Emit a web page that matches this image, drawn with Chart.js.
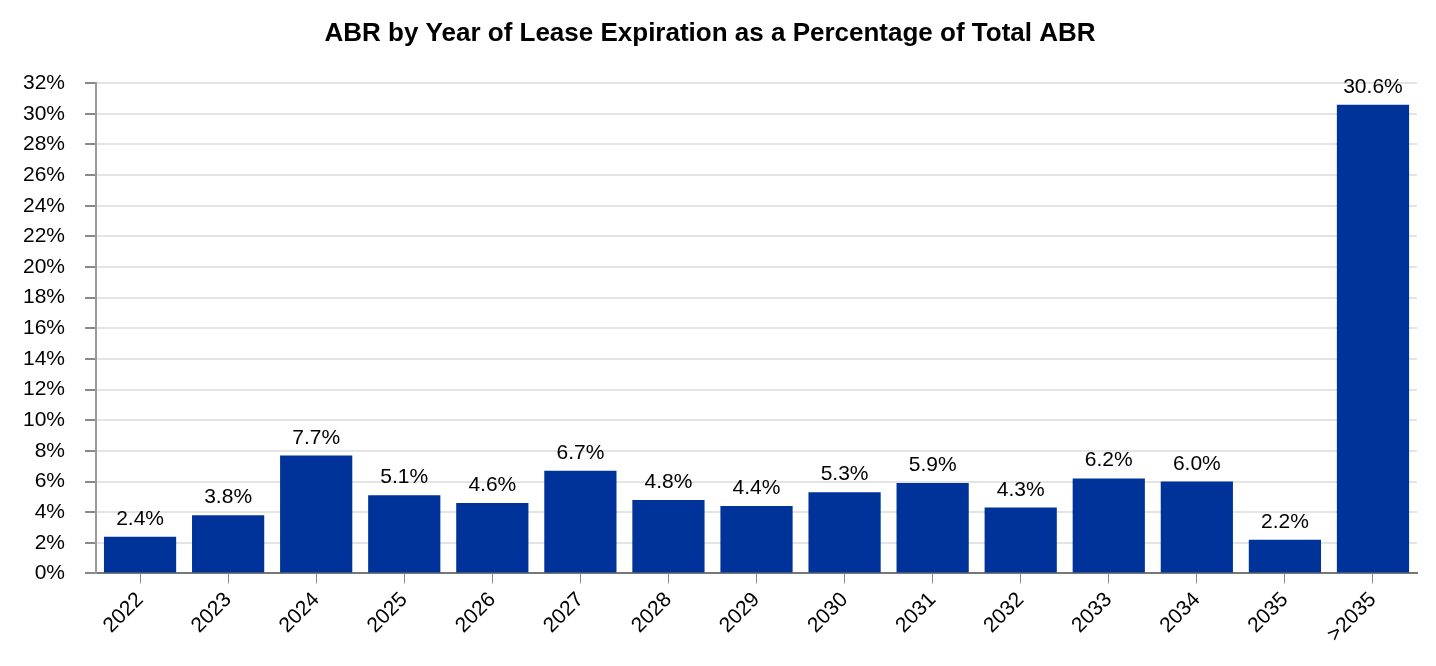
<!DOCTYPE html>
<html>
<head>
<meta charset="utf-8">
<script src="https://cdn.jsdelivr.net/npm/chart.js@4/dist/chart.umd.min.js"></script>
<style>
html,body{margin:0;padding:0;background:#fff;}
#wrap{width:1436px;height:666px;}
</style>
</head>
<body>
<div id="wrap"><canvas id="c" width="1436" height="666"></canvas></div>
<script>
const categories = ["2022","2023","2024","2025","2026","2027","2028","2029","2030","2031","2032","2033","2034","2035",">2035"];
const abrPercent = [2.4,3.8,7.7,5.1,4.6,6.7,4.8,4.4,5.3,5.9,4.3,6.2,6.0,2.2,30.6];
const valueLabels = ["2.4%","3.8%","7.7%","5.1%","4.6%","6.7%","4.8%","4.4%","5.3%","5.9%","4.3%","6.2%","6.0%","2.2%","30.6%"];
const titleText = "ABR by Year of Lease Expiration as a Percentage of Total ABR";

const FONT = '"Liberation Sans", Arial, sans-serif';

const labelPlugin = {
  id: 'valueLabels',
  afterDatasetsDraw(chart) {
    const ctx = chart.ctx;
    const meta = chart.getDatasetMeta(0);
    ctx.save();
    ctx.font = '21px ' + FONT;
    ctx.fillStyle = '#000';
    ctx.textAlign = 'center';
    ctx.textBaseline = 'alphabetic';
    meta.data.forEach((bar, i) => {
      ctx.fillText(valueLabels[i], bar.x, bar.y - 12);
    });
    ctx.restore();
  }
};

new Chart(document.getElementById('c'), {
  type: 'bar',
  data: {
    labels: categories,
    datasets: [{
      data: abrPercent,
      backgroundColor: '#003399',
      borderWidth: 0,
      barPercentage: 0.82,
      categoryPercentage: 1.0
    }]
  },
  options: {
    responsive: false,
    animation: false,
    layout: { padding: { left: 3, right: 19, top: 0, bottom: 15 } },
    plugins: {
      legend: { display: false },
      tooltip: { enabled: false },
      title: {
        display: true,
        text: titleText,
        color: '#000',
        font: { family: FONT, size: 26, weight: 'bold' },
        padding: { top: 18, bottom: 34 }
      }
    },
    scales: {
      x: {
        grid: { display: true, drawOnChartArea: false, drawTicks: true, tickLength: 10, tickColor: '#888', offset: false },
        border: { color: '#777', width: 2 },
        ticks: {
          color: '#000',
          font: { family: FONT, size: 21 },
          maxRotation: 45, minRotation: 45, padding: 4, autoSkip: false
        }
      },
      y: {
        min: 0, max: 32,
        grid: { color: '#e4e4e4', lineWidth: 2, tickLength: 11, tickColor: '#888', drawTicks: true },
        border: { color: '#999', width: 2 },
        ticks: {
          stepSize: 2,
          color: '#000',
          padding: 20,
          font: { family: FONT, size: 21 },
          callback: v => v + '%'
        }
      }
    }
  },
  plugins: [labelPlugin]
});
</script>
</body>
</html>
